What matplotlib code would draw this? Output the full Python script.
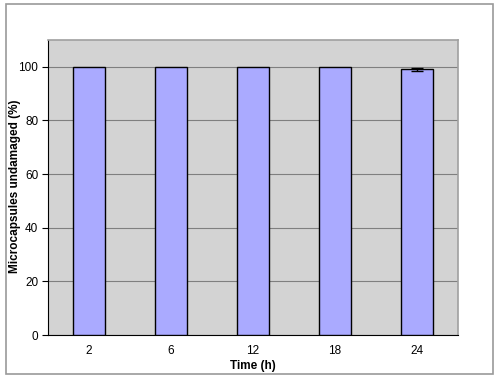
import matplotlib.pyplot as plt
from matplotlib.patches import Rectangle

plt.rcParams['font.family'] = ['Liberation Sans', 'DejaVu Sans']

times = ['2', '6', '12', '18', '24']
undamaged = [100, 100, 100, 100, 99]
errors = [0, 0, 0, 0, 0.5]

fig = plt.figure(figsize=(5, 3.8), dpi=100)
ax = fig.add_axes([0.096, 0.118, 0.82, 0.777])

# outer chart border
fig.patches.append(Rectangle((6 / 500, 6 / 380), 487 / 500, 370 / 380,
                             transform=fig.transFigure, fill=False,
                             edgecolor='#9a9a9a', linewidth=1.2))

ax.set_facecolor('#d3d3d3')
x = range(len(times))
ax.bar(x, undamaged, width=0.4, color='#aaaaff', edgecolor='black', linewidth=1.0, zorder=3)
ax.errorbar([4], [undamaged[4]], yerr=[errors[4]], fmt='none', ecolor='black',
            elinewidth=1.0, capsize=4, capthick=1.0, zorder=4)

ax.set_xlim(-0.5, 4.5)
ax.set_ylim(0, 110)
ax.set_yticks(range(0, 101, 20))
ax.set_xticks(list(x))
ax.set_xticklabels(times)
ax.yaxis.grid(True, color='#7f7f7f', linewidth=0.8, zorder=1)
ax.tick_params(axis='y', length=4, direction='out', labelsize=8.5, pad=3)
ax.tick_params(axis='x', length=0, labelsize=8.5, pad=7)

for side in ['top', 'right']:
    ax.spines[side].set_color('#a0a0a0')
    ax.spines[side].set_linewidth(1.2)
ax.spines['left'].set_color('black')
ax.spines['bottom'].set_color('black')

ax.set_xlabel('Time (h)', fontsize=8.5, fontweight='bold')
ax.xaxis.set_label_coords(0.5, -0.085)
fig.text(15 / 500, 1 - 186 / 380, 'Microcapsules undamaged (%)', rotation=90,
         ha='center', va='center', fontsize=8.5, fontweight='bold')

fig.savefig('out.png', dpi=100)
